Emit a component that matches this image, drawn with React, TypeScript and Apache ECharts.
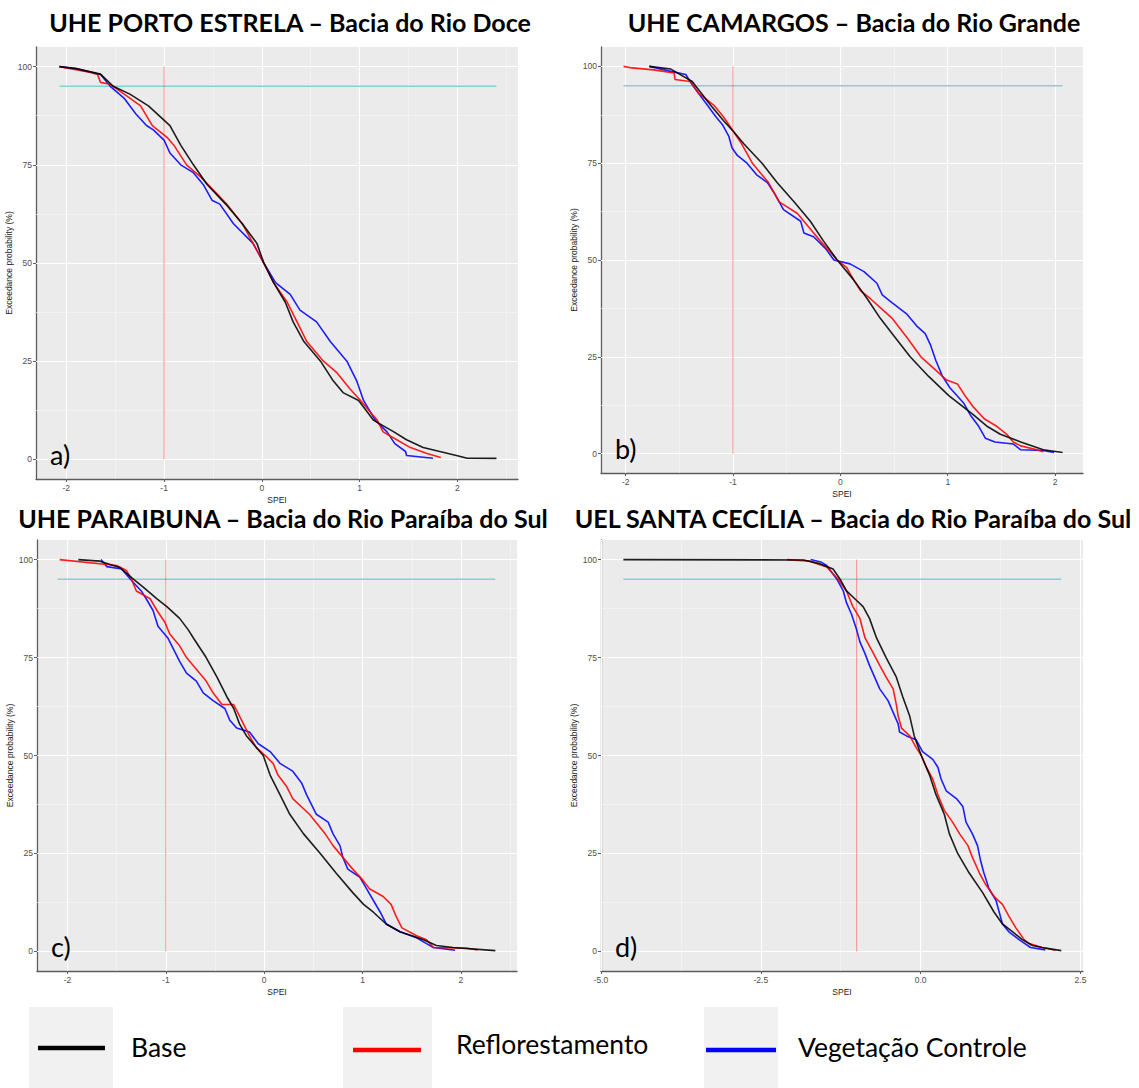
import React, { useEffect, useRef } from "react";
import * as echarts from "echarts";

// ---------- data (SPEI, exceedance probability %) ----------
const aBase = [[-2.07,100],[-1.9,99.5],[-1.65,98.1],[-1.52,95],[-1.35,93],[-1.16,90],[-0.94,85],[-0.83,80],[-0.70,75],[-0.56,70],[-0.37,65],[-0.20,60],[-0.05,55],[0.02,50],[0.12,45],[0.24,40],[0.32,35],[0.43,30],[0.60,25],[0.73,20],[0.83,17],[0.99,15],[1.14,10],[1.35,7],[1.48,5],[1.65,3],[1.82,2],[1.99,1],[2.10,0.3],[2.40,0.25]];
const aRefl = [[-2.07,100],[-1.75,98.5],[-1.68,98],[-1.65,96],[-1.55,95.5],[-1.35,92],[-1.24,90],[-1.12,85],[-0.97,82],[-0.90,80],[-0.77,75],[-0.63,72],[-0.55,70],[-0.36,65],[-0.20,60],[-0.09,55],[0.02,50],[0.12,45],[0.26,40],[0.36,35],[0.46,30],[0.63,25],[0.77,22],[0.90,18],[1.01,15],[1.11,12],[1.18,10],[1.24,7],[1.38,5],[1.52,3],[1.69,1.5],[1.83,0.5]];
const aVeg = [[-2.07,100],[-1.9,99.5],[-1.65,98],[-1.55,95],[-1.41,92],[-1.29,88],[-1.18,85],[-1.11,83.9],[-1.0,81.3],[-0.94,78],[-0.83,75],[-0.70,73],[-0.60,70],[-0.51,66],[-0.43,65],[-0.29,60],[-0.09,55],[0.02,50],[0.14,45],[0.29,42],[0.39,38],[0.56,35],[0.70,30],[0.87,25],[0.97,20],[1.04,15],[1.16,10],[1.28,7],[1.36,4],[1.47,2],[1.48,1],[1.75,0.3]];

const bBase = [[-1.78,100],[-1.58,99.3],[-1.38,96.1],[-1.35,95],[-1.21,90],[-1.09,86],[-0.99,83],[-0.90,80],[-0.73,75],[-0.59,70],[-0.43,65],[-0.28,60],[-0.16,55],[-0.03,50],[0.12,45],[0.25,40],[0.37,35],[0.51,30],[0.65,25],[0.82,20],[1.01,15],[1.24,10],[1.37,7],[1.49,5],[1.68,3],[1.89,1],[2.07,0.3]];
const bRefl = [[-2.02,100],[-1.94,99.6],[-1.74,99.1],[-1.55,98.3],[-1.54,96.6],[-1.40,96.1],[-1.32,93],[-1.18,90],[-1.09,87],[-1.04,85],[-0.92,80],[-0.82,75],[-0.67,70],[-0.57,65],[-0.40,62],[-0.28,58],[-0.19,55],[-0.03,50],[0.06,48],[0.12,45],[0.19,42],[0.28,40],[0.40,37],[0.48,35],[0.62,30],[0.75,25],[0.87,22],[0.99,19],[1.09,18],[1.16,15],[1.24,12],[1.34,9],[1.46,7],[1.55,5],[1.61,3],[1.68,2],[1.83,1],[1.89,0.5]];
const bVeg = [[-1.78,100],[-1.58,98.7],[-1.44,97.9],[-1.40,96.1],[-1.32,93],[-1.24,90],[-1.16,87],[-1.10,85],[-1.04,82],[-1.01,79],[-0.96,77],[-0.87,75],[-0.78,72],[-0.68,70],[-0.61,67],[-0.53,63],[-0.37,60],[-0.34,57],[-0.25,56],[-0.14,53],[-0.06,50],[0.09,49],[0.22,47],[0.34,44],[0.39,41],[0.48,39],[0.62,36],[0.71,33],[0.79,31],[0.84,28],[0.89,24],[0.95,20],[1.02,17],[1.15,13],[1.21,10],[1.29,7],[1.35,4],[1.44,3],[1.61,2.5],[1.68,1],[1.89,0.8],[1.99,0.3]];

const cBase = [[-1.89,100],[-1.67,99.6],[-1.47,98],[-1.33,95],[-1.23,93],[-1.09,90],[-0.99,88],[-0.86,85],[-0.77,82],[-0.72,80],[-0.59,75],[-0.48,70],[-0.38,65],[-0.31,62],[-0.25,58],[-0.18,55],[-0.01,50],[0.06,45],[0.16,40],[0.26,35],[0.40,30],[0.57,25],[0.73,20],[0.90,15],[1.01,12],[1.11,10],[1.24,7],[1.38,5],[1.62,3],[1.75,1.5],[1.92,1],[2.35,0.2]];
const cRefl = [[-2.08,100],[-1.50,98.5],[-1.40,97.2],[-1.35,95],[-1.30,92],[-1.16,90],[-1.09,87],[-1.01,84],[-0.96,81],[-0.86,78],[-0.79,75],[-0.69,72],[-0.59,69],[-0.52,66],[-0.43,63],[-0.31,63],[-0.21,58],[-0.15,55],[-0.08,52],[0.01,50],[0.09,48],[0.14,45],[0.23,42],[0.29,39],[0.46,35],[0.62,30],[0.70,27],[0.80,24],[0.90,21],[1.01,18],[1.07,16],[1.21,14],[1.29,12],[1.34,9],[1.40,6],[1.55,4],[1.65,3],[1.72,1],[2.06,0.8],[2.17,0.4]];
const cVeg = [[-1.66,100],[-1.60,98.2],[-1.45,97.6],[-1.36,95],[-1.25,92],[-1.20,90],[-1.13,87],[-1.08,83],[-0.98,80],[-0.92,77],[-0.86,74],[-0.79,71],[-0.69,69],[-0.62,66],[-0.52,64],[-0.40,62],[-0.35,59],[-0.28,57],[-0.15,56],[-0.06,53],[0.06,51],[0.16,48],[0.29,46],[0.38,43],[0.43,40],[0.53,35],[0.65,33],[0.70,30],[0.77,27],[0.80,24],[0.85,21],[0.97,19],[1.04,16],[1.11,13],[1.18,10],[1.24,7],[1.38,5],[1.55,3.5],[1.65,2],[1.72,1],[1.94,0.3]];

const dBase = [[-4.65,100],[-1.83,99.9],[-1.57,98.9],[-1.37,97.6],[-1.26,95],[-1.16,92],[-1.03,90],[-0.90,88],[-0.80,85],[-0.69,80],[-0.54,75],[-0.38,70],[-0.28,65],[-0.17,60],[-0.10,55],[0.01,50],[0.14,45],[0.24,40],[0.37,35],[0.45,30],[0.58,25],[0.76,20],[0.97,15],[1.15,10],[1.28,7],[1.44,5],[1.59,3],[1.75,1.5],[1.90,1],[2.20,0.2]];
const dRefl = [[-2.09,100],[-1.73,99.6],[-1.47,98.1],[-1.29,95],[-1.16,92],[-1.06,88],[-0.95,85],[-0.87,80],[-0.77,77],[-0.64,73],[-0.54,70],[-0.43,67],[-0.38,63],[-0.35,60],[-0.30,57],[-0.17,55],[-0.07,52],[0.01,50],[0.09,47],[0.19,44],[0.27,40],[0.37,36],[0.50,33],[0.61,30],[0.74,27],[0.81,24],[0.92,20],[1.02,17],[1.15,14],[1.28,12],[1.38,9],[1.49,6],[1.62,3],[1.70,2],[1.90,1],[2.11,0.3]];
const dVeg = [[-1.72,100],[-1.55,99.3],[-1.47,98.5],[-1.31,95],[-1.21,92],[-1.16,89],[-1.08,86],[-1.00,82],[-0.95,79],[-0.87,76],[-0.80,73],[-0.72,70],[-0.64,67],[-0.51,64],[-0.43,61],[-0.35,58],[-0.33,56],[-0.22,55],[-0.07,54],[0.03,51],[0.19,49],[0.27,47],[0.32,44],[0.40,41],[0.56,39],[0.66,37],[0.71,33],[0.81,30],[0.89,27],[0.94,23],[0.99,20],[1.07,16],[1.18,13],[1.23,10],[1.28,7],[1.38,5],[1.54,3],[1.72,1],[1.95,0.4]];

const titles = [
  "UHE PORTO ESTRELA – Bacia do Rio Doce",
  "UHE CAMARGOS – Bacia do Rio Grande",
  "UHE PARAIBUNA – Bacia do Rio Paraíba do Sul",
  "UEL SANTA CECÍLIA – Bacia do Rio Paraíba do Sul",
];
const panelLabels = ["a)", "b)", "c)", "d)"];
const seriesNames = ["Base", "Reflorestamento", "Vegetação Controle"];
const seriesColors = ["#000000", "#FF0000", "#0000FF"];

const xTicksStd = [-2, -1, 0, 1, 2];
const xMinorStd = [-1.5, -0.5, 0.5, 1.5, 2.5];
const xTicksD = [-5, -2.5, 0, 2.5];
const xMinorD = [-3.75, -1.25, 1.25];
const yTicks = [0, 25, 50, 75, 100];
const yMinor = [12.5, 37.5, 62.5, 87.5];
const threshold95 = 95;
const speiThreshold = -1;

const panelData = [
  [aBase, aRefl, aVeg],
  [bBase, bRefl, bVeg],
  [cBase, cRefl, cVeg],
  [dBase, dRefl, dVeg],
];
const xRanges = [[-2.31, 2.62], [-2.23, 2.26], [-2.31, 2.57], [-5, 2.54]];
const hLineExtents = [[-2.07, 2.40], [-2.02, 2.07], [-2.10, 2.35], [-4.65, 2.20]];

// layout
const grids = [
  { left: 36, top: 47, width: 482, height: 432 },
  { left: 601, top: 47, width: 482, height: 426 },
  { left: 37, top: 540, width: 480, height: 431 },
  { left: 601, top: 540, width: 482, height: 431 },
];
const titlePos = [[290, 22], [854, 22], [283, 518], [853, 518]];

export default function App() {
  const ref = useRef<HTMLDivElement>(null);
  useEffect(() => {
    if (!ref.current) return;
    const chart = echarts.init(ref.current, null, { renderer: "svg" });
    const axisFont = "Liberation Sans";
    const xAxis: any[] = [];
    const yAxis: any[] = [];
    const series: any[] = [];
    const graphic: any[] = [];

    grids.forEach((g, k) => {
      const isD = k === 3;
      const xt = isD ? xTicksD : xTicksStd;
      const xm = isD ? xMinorD : xMinorStd;
      xAxis.push({
        type: "value", gridIndex: k, min: xRanges[k][0], max: xRanges[k][1],
        axisLine: { show: true, onZero: false, lineStyle: { color: "#5c5c5c", width: 1.3 } },
        axisTick: { show: true, length: 3, customValues: xt, lineStyle: { color: "#5c5c5c" } },
        axisLabel: {
          customValues: xt, fontSize: 8.5, color: "#4D4D4D", margin: 4, fontFamily: axisFont,
          formatter: (v: number) => (isD ? v.toFixed(1) : String(v)),
        },
        splitLine: { show: false },
        name: "SPEI", nameLocation: "middle", nameGap: 16,
        nameTextStyle: { fontSize: 8.5, color: "#222", fontFamily: axisFont },
      });
      yAxis.push({
        type: "value", gridIndex: k, min: -5, max: 105,
        axisLine: { show: true, onZero: false, lineStyle: { color: "#5c5c5c", width: 1.3 } },
        axisTick: { show: true, length: 3, customValues: yTicks, lineStyle: { color: "#5c5c5c" } },
        axisLabel: { customValues: yTicks, fontSize: 8.5, color: "#4D4D4D", margin: 4, fontFamily: axisFont },
        splitLine: { show: false },
        name: "Exceedance probability (%)", nameLocation: "middle", nameGap: 15, nameRotate: 90,
        nameTextStyle: { fontSize: 8.5, color: "#222", fontFamily: axisFont },
      });

      const gridLines: any[] = [];
      xt.forEach((v) => gridLines.push({ xAxis: v, lineStyle: { color: "#ffffff", width: 1.1, type: "solid" } }));
      xm.forEach((v) => {
        if (v > xRanges[k][0] && v < xRanges[k][1])
          gridLines.push({ xAxis: v, lineStyle: { color: "#f7f7f7", width: 0.6, type: "solid" } });
      });
      yTicks.forEach((v) => gridLines.push({ yAxis: v, lineStyle: { color: "#ffffff", width: 1.1, type: "solid" } }));
      yMinor.forEach((v) => gridLines.push({ yAxis: v, lineStyle: { color: "#f7f7f7", width: 0.6, type: "solid" } }));

      // cyan 95% line (also hosts the panel grid lines)
      series.push({
        type: "line", xAxisIndex: k, yAxisIndex: k, z: 2, silent: true,
        data: [[hLineExtents[k][0], threshold95], [hLineExtents[k][1], threshold95]],
        showSymbol: false, lineStyle: { color: "#7FD4D4", width: 1.4 },
        markLine: {
          silent: true, z: 1, symbol: ["none", "none"], label: { show: false },
          animation: false, data: gridLines,
        },
      });
      // red vertical at SPEI = -1
      series.push({
        type: "line", xAxisIndex: k, yAxisIndex: k, z: 2, silent: true,
        data: [[speiThreshold, 0], [speiThreshold, 100]],
        showSymbol: false, lineStyle: { color: "rgba(255,60,60,0.55)", width: 1 },
      });
      panelData[k].forEach((d, i) => {
        series.push({
          name: seriesNames[i], type: "line", xAxisIndex: k, yAxisIndex: k, z: 3 + (2 - i),
          data: d, showSymbol: false, lineStyle: { color: seriesColors[i], width: 1.6, opacity: 0.88 },
        });
      });

      graphic.push({
        type: "text", x: titlePos[k][0], y: titlePos[k][1], z: 100,
        style: {
          text: titles[k], font: "bold 25px Lato", fontWeight: "bold", fontSize: 25, fontFamily: "Lato",
          fill: "#000", textAlign: "center", textVerticalAlign: "middle", align: "center", verticalAlign: "middle",
        },
      });
      graphic.push({
        type: "text", x: g.left + 14, y: g.top + g.height - 25, z: 100,
        style: {
          text: panelLabels[k], fontSize: 27, fontFamily: "Lato",
          fill: "#000", textAlign: "left", textVerticalAlign: "middle", align: "left", verticalAlign: "middle",
        },
      });
    });

    // legend
    const legendItems = [
      { box: [29, 113], line: [38, 105], ly: 1048, tx: 131, ty: 1047 },
      { box: [343, 432], line: [353, 421], ly: 1050, tx: 456, ty: 1044 },
      { box: [704, 778], line: [706, 776], ly: 1050, tx: 798, ty: 1047 },
    ];
    legendItems.forEach((it, i) => {
      graphic.push({ type: "rect", z: 100, shape: { x: it.box[0], y: 1007, width: it.box[1] - it.box[0], height: 81 }, style: { fill: "#F1F1F1" } });
      graphic.push({ type: "line", z: 101, shape: { x1: it.line[0], y1: it.ly, x2: it.line[1], y2: it.ly }, style: { stroke: seriesColors[i], lineWidth: 4.5 } });
      graphic.push({
        type: "text", x: it.tx, y: it.ty, z: 101,
        style: {
          text: seriesNames[i], fontSize: 26.5, fontFamily: "Lato", fill: "#000",
          textAlign: "left", textVerticalAlign: "middle", align: "left", verticalAlign: "middle",
        },
      });
    });

    chart.setOption({
      animation: false,
      backgroundColor: "#ffffff",
      grid: grids.map((g) => ({ ...g, show: true, backgroundColor: "#EBEBEB", borderWidth: 0, containLabel: false })),
      xAxis, yAxis, series, graphic,
    });
    return () => chart.dispose();
  }, []);
  return <div ref={ref} style={{ position: "absolute", left: 0, top: 0, width: 1139, height: 1088 }} />;
}
